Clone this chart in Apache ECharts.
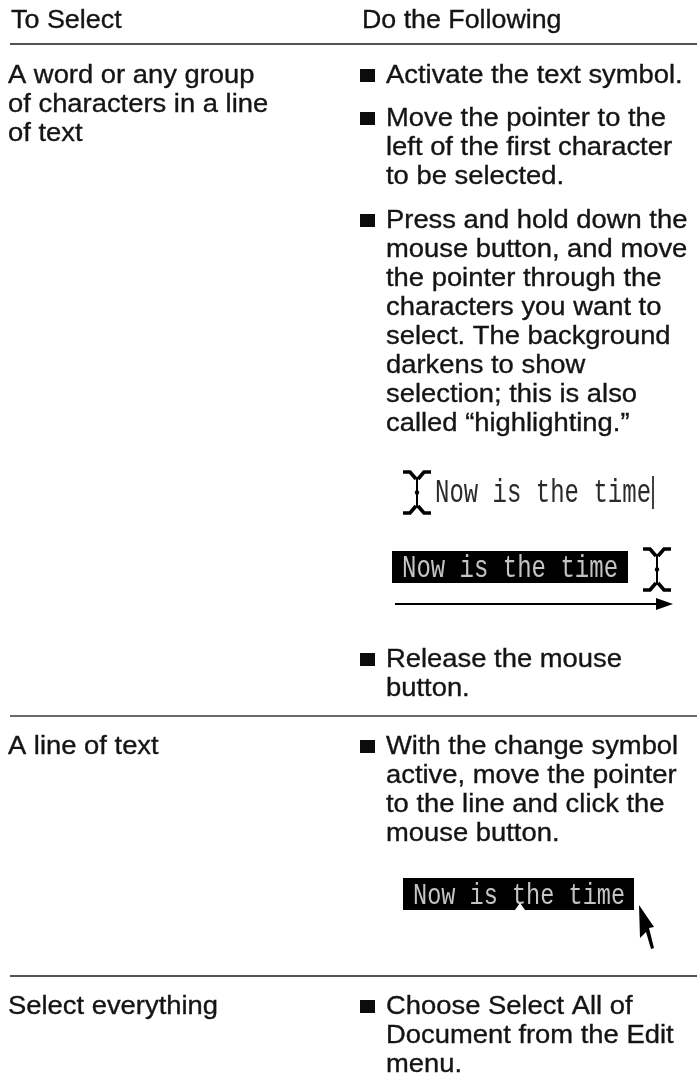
<!DOCTYPE html>
<html><head><meta charset="utf-8">
<style>html,body{margin:0;padding:0;background:#fff}#c{width:697px;height:1075px}</style>
<script src="https://cdn.jsdelivr.net/npm/echarts@6/dist/echarts.min.js"></script>
</head><body><div id="c"></div>
<script>
const headers = ["To Select", "Do the Following"];
const row1Left = ["A word or any group", "of characters in a line", "of text"];
const row2Left = ["A line of text"];
const row3Left = ["Select everything"];
const row1Bullets = [
  ["Activate the text symbol."],
  ["Move the pointer to the", "left of the first character", "to be selected."],
  ["Press and hold down the", "mouse button, and move", "the pointer through the", "characters you want to", "select. The background", "darkens to show", "selection; this is also", "called \u201chighlighting.\u201d"],
  ["Release the mouse", "button."]
];
const row2Bullets = [["With the change symbol", "active, move the pointer", "to the line and click the", "mouse button."]];
const row3Bullets = [["Choose Select All of", "Document from the Edit", "menu."]];
const sampleText = "Now is the time";

const INK = "#141414", FONT = "Liberation Sans", SIZE = 26, LH = 29, SX = 1.053;
const g = [];
function txt(s, x, base, sx) {
  g.push({type:"text", x, y:base-SIZE*0.34+2.5, scaleX:sx||SX, style:{text:s, fill:INK, stroke:INK, lineWidth:0.35, font:SIZE+"px '"+FONT+"'", verticalAlign:"middle", align:"left"}});
}
function lines(arr, x, base) { arr.forEach((s,i)=>txt(s, x, base+i*LH)); }
function rule(x,y,c) { g.push({type:"line", shape:{x1:x,y1:y,x2:697,y2:y}, style:{stroke:c,lineWidth:1.5}}); }
function bullet(base,h) { g.push({type:"rect", shape:{x:360,y:base-h,width:15,height:h}, style:{fill:"#0c0c0c"}}); }
function bulleted(blocks, bases) { blocks.forEach((b,i)=>{bullet(bases[i], 13); lines(b, 386, bases[i]);}); }
function mono(s, x, base, w, size, fill) {
  const sx = w/(s.length*size*0.6);
  g.push({type:"text", x, y:base-size*0.33, scaleX:sx, style:{text:s, fill, font:size+"px 'Liberation Mono'", verticalAlign:"middle", align:"left"}});
}
function ibeam(cx, top, bot) {
  const m=(top+bot)/2;
  const arm=(sx,sy,yy)=>[[cx+sx*14,yy],[cx+sx*7,yy],[cx+sx*1,yy+sy*7]];
  [[-1,1,top+2],[1,1,top+2],[-1,-1,bot-2],[1,-1,bot-2]].forEach(a=>{
    g.push({type:"polyline",shape:{points:arm(a[0],a[1],a[2])},style:{stroke:"#000",lineWidth:3.6,fill:"none"}});
  });
  g.push({type:"line",shape:{x1:cx,y1:top+7,x2:cx,y2:bot-7},style:{stroke:"#000",lineWidth:2}});
  g.push({type:"circle",shape:{cx,cy:m,r:2.2},style:{fill:"#000"}});
}

txt(headers[0], 11, 27, 1.035); txt(headers[1], 362, 27, 1.03);
rule(10,44,"#1a1a1a");
lines(row1Left, 8, 82);
bulleted(row1Bullets, [82,125,227,666]);
// illustrations
ibeam(417,470,515);
mono(sampleText,435,504,216,33,"#2a2a2a");
g.push({type:"line",shape:{x1:653,y1:476,x2:653,y2:509},style:{stroke:"#000",lineWidth:1.5}});
g.push({type:"rect",shape:{x:392,y:551,width:236,height:32},style:{fill:"#000"}});
mono(sampleText,402,579,216,32,"#c4c4c4");
ibeam(657,547,592);
g.push({type:"line",shape:{x1:395,y1:604,x2:660,y2:604},style:{stroke:"#000",lineWidth:2}});
g.push({type:"polygon",shape:{points:[[673,604],[656,598],[656,610]]},style:{fill:"#000"}});
rule(10,716,"#3a3a3a");
lines(row2Left, 8, 753);
bulleted(row2Bullets, [753]);
g.push({type:"rect",shape:{x:403,y:878,width:231,height:32},style:{fill:"#000"}});
mono(sampleText,413,906,212,29,"#c4c4c4");
g.push({type:"polygon",shape:{points:[[515,910],[520,903],[525,910]]},style:{fill:"#fff"}});
g.push({type:"polygon",shape:{points:[[639,905],[654,927],[649,928],[654,948],[651,949],[646,932],[640,938]]},style:{fill:"#000"}});
rule(10,976,"#1a1a1a");
lines(row3Left, 8, 1013);
bulleted(row3Bullets, [1013]);

const chart = echarts.init(document.getElementById("c"), null, {renderer:"canvas", width:697, height:1075});
chart.setOption({animation:false, backgroundColor:"#fff", graphic:{elements:g}});
</script></body></html>
